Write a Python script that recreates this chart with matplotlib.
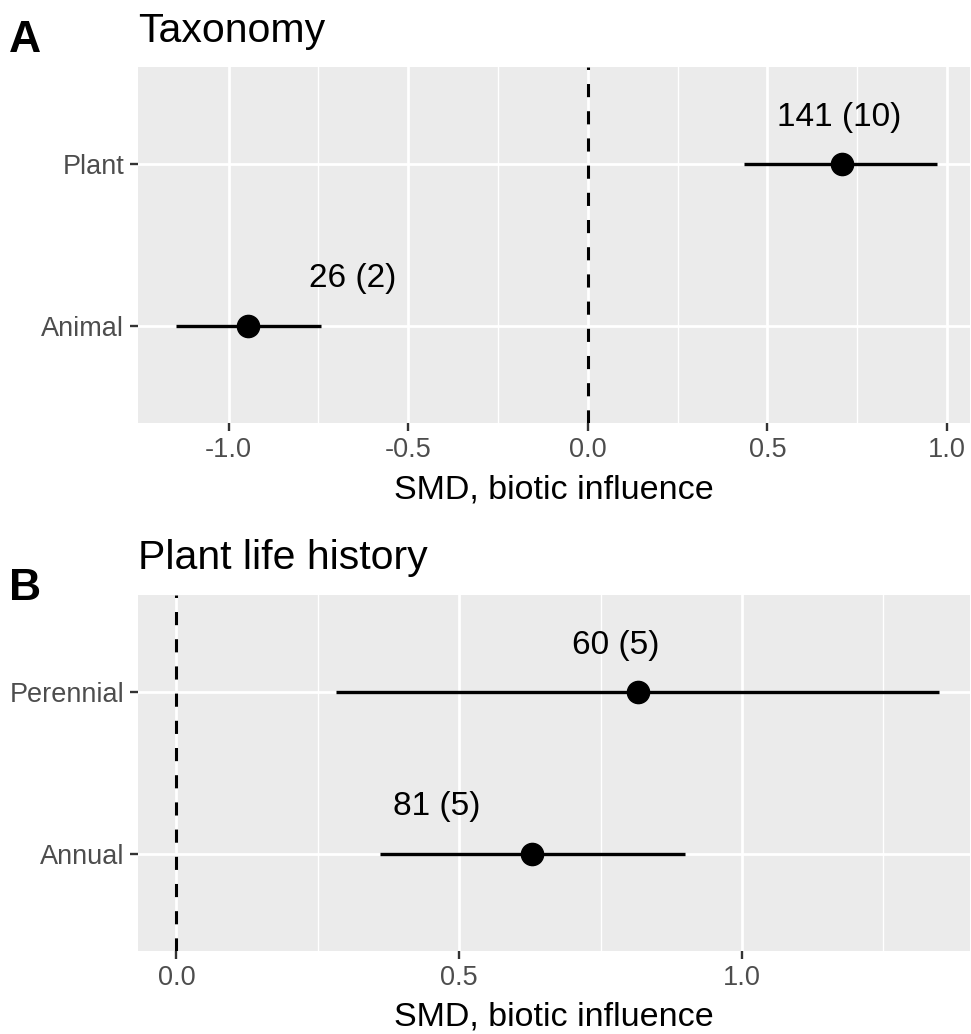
import matplotlib
matplotlib.use("Agg")
import matplotlib.pyplot as plt

plt.rcParams['font.family'] = ['Liberation Sans', 'DejaVu Sans']

# panel A: taxonomy
tax_groups = ["Animal", "Plant"]
tax_est = [-0.946, 0.707]
tax_lo = [-1.146, 0.435]
tax_hi = [-0.744, 0.973]
tax_labels = ["26 (2)", "141 (10)"]
tax_label_x = [-0.654, 0.699]

# panel B: plant life history
life_groups = ["Annual", "Perennial"]
life_est = [0.629, 0.816]
life_lo = [0.359, 0.282]
life_hi = [0.899, 1.349]
life_labels = ["81 (5)", "60 (5)"]
life_label_x = [0.461, 0.777]

W, H = 971, 1034
fig = plt.figure(figsize=(W / 100, H / 100), dpi=100)

BG = "#EBEBEB"
GREY = "#4D4D4D"


def panel(rect, groups, est, lo, hi, labels, label_x, xlim, major, minor, ticklabels):
    ax = fig.add_axes(rect)
    ax.set_facecolor(BG)
    for s in ax.spines.values():
        s.set_visible(False)
    y = list(range(1, len(groups) + 1))
    ax.set_xlim(*xlim)
    ax.set_ylim(0.4, len(groups) + 0.6)
    for m in minor:
        ax.axvline(m, color="white", lw=1.0, zorder=0)
    for m in major:
        ax.axvline(m, color="white", lw=2.0, zorder=0)
    for yy in y:
        ax.axhline(yy, color="white", lw=2.0, zorder=0)
    ax.axvline(0, color="black", lw=2.2, ls=(0, (4.3, 4.6)), zorder=1)
    ax.hlines(y, lo, hi, color="black", lw=2.4, zorder=2)
    ax.plot(est, y, "o", color="black", ms=16, zorder=3)
    for lx, yy, t in zip(label_x, y, labels):
        ax.text(lx, yy + 0.29, t, ha="center", va="center", fontsize=24, color="black")
    ax.set_xticks(major)
    ax.set_xticklabels(ticklabels)
    ax.set_yticks(y)
    ax.set_yticklabels(groups)
    ax.tick_params(axis="both", colors="#333333", length=6, width=1.7,
                   labelsize=19.5, labelcolor=GREY)
    ax.tick_params(axis="x", pad=4)
    ax.tick_params(axis="y", pad=4)
    return ax


left = 138 / W
width = (970 - 138) / W

axA = panel([left, 1 - 423 / H, width, (423 - 67) / H],
            tax_groups, tax_est, tax_lo, tax_hi, tax_labels, tax_label_x,
            (-1.2525, 1.064), [-1.0, -0.5, 0.0, 0.5, 1.0], [-0.75, -0.25, 0.25, 0.75],
            ["-1.0", "-0.5", "0.0", "0.5", "1.0"])
axB = panel([left, 1 - 951 / H, width, (951 - 595) / H],
            life_groups, life_est, life_lo, life_hi, life_labels, life_label_x,
            (-0.068, 1.403), [0.0, 0.5, 1.0], [0.25, 0.75, 1.25],
            ["0.0", "0.5", "1.0"])

fig.text(0.5 * (138 + 970) / W, 1 - 490 / H, "SMD, biotic influence",
         ha="center", va="center", fontsize=24.5)
fig.text(0.5 * (138 + 970) / W, 1 - 1017 / H, "SMD, biotic influence",
         ha="center", va="center", fontsize=24.5)

fig.text(138 / W, 1 - 31 / H, "Taxonomy", ha="left", va="center", fontsize=29.5)
fig.text(138 / W, 1 - 558 / H, "Plant life history", ha="left", va="center", fontsize=29.5)
fig.text(9 / W, 1 - 40 / H, "A", ha="left", va="center", fontsize=32, fontweight="bold")
fig.text(9 / W, 1 - 589 / H, "B", ha="left", va="center", fontsize=32, fontweight="bold")

fig.savefig("out.png", dpi=100)
